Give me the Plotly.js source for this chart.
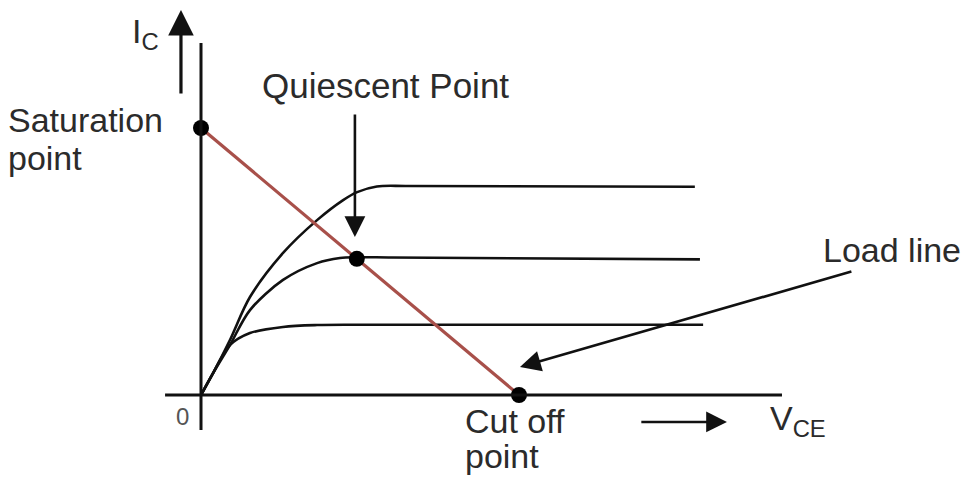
<!DOCTYPE html>
<html>
<head>
<meta charset="utf-8">
<script src="https://cdn.plot.ly/plotly-3.0.1.min.js"></script>
<style>html,body{margin:0;padding:0;background:#fff;}#chart{width:966px;height:484px;}</style>
</head>
<body>
<div id="chart"></div>
<script>
// Output characteristic curves (VCE, IC) in arbitrary units
var topVce = [0, 0.38, 0.91, 1.54, 2.58, 3.65, 4.47, 4.91, 5.53, 6.5, 15.53];
var topIc  = [0, 0.82, 2.06, 3.67, 5.32, 6.55, 7.30, 7.60, 7.81, 7.83, 7.80];
var midVce = [0, 0.38, 0.91, 1.54, 2.58, 3.65, 4.37, 4.91, 6.0, 15.69];
var midIc  = [0, 0.82, 1.87, 3.18, 4.31, 4.94, 5.13, 5.16, 5.15, 5.08];
var lowVce = [0, 0.38, 0.91, 1.54, 2.58, 3.65, 5.0, 15.79];
var lowIc  = [0, 0.82, 1.87, 2.32, 2.55, 2.62, 2.63, 2.63];
// Load line end points and operating points
var loadVce = [0, 10];
var loadIc  = [10, 0];
var pointVce = [0, 4.9, 10];
var pointIc  = [10, 5.1, 0];

var ink = '#111';
var txt = '#2b2b2b';
var F = 'Liberation Sans, Arial, sans-serif';

var traces = [
  {x: topVce, y: topIc, mode: 'lines', line: {color: ink, width: 2.6, shape: 'spline', smoothing: 0.9}},
  {x: midVce, y: midIc, mode: 'lines', line: {color: ink, width: 2.6, shape: 'spline', smoothing: 0.9}},
  {x: lowVce, y: lowIc, mode: 'lines', line: {color: ink, width: 2.6, shape: 'spline', smoothing: 0.9}},
  {x: loadVce, y: loadIc, mode: 'lines', line: {color: '#a8504a', width: 3.2}},
  {x: pointVce, y: pointIc, mode: 'markers', marker: {color: '#000', size: 16}}
];

function lbl(text, x, y, size, color) {
  return {text: text, x: x, y: y, xref: 'x', yref: 'y', showarrow: false,
    xanchor: 'left', yanchor: 'middle', font: {family: F, size: size, color: color || txt}};
}
function arr(x, y, ax, ay, w) {
  return {x: x, y: y, ax: ax, ay: ay, xref: 'x', yref: 'y', axref: 'x', ayref: 'y',
    text: '', showarrow: true, arrowhead: 2, arrowsize: 1.6, arrowwidth: w || 2.6, arrowcolor: ink};
}

var layout = {
  width: 966, height: 484,
  margin: {l: 0, r: 0, t: 0, b: 0},
  paper_bgcolor: '#fff', plot_bgcolor: '#fff',
  showlegend: false,
  xaxis: {range: [-6.321, 24.057], visible: false, fixedrange: true},
  yaxis: {range: [-3.333, 14.794], visible: false, fixedrange: true},
  shapes: [
    {type: 'line', xref: 'x', yref: 'y', x0: 0, x1: 0, y0: -1.31, y1: 13.18, line: {color: ink, width: 3}},
    {type: 'line', xref: 'x', yref: 'y', x0: -1.13, x1: 18.27, y0: 0, y1: 0, line: {color: ink, width: 3}}
  ],
  annotations: [
    lbl('Saturation', -6.12, 10.30, 34),
    lbl('point', -6.12, 8.88, 34),
    lbl('I<sub>C</sub>', -2.22, 13.55, 34),
    lbl('Quiescent Point', 1.86, 11.61, 35),
    lbl('Load line', 19.50, 5.43, 34),
    lbl('0', -0.86, -0.79, 24, '#555'),
    lbl('Cut off', 8.25, -0.97, 34),
    lbl('point', 8.25, -2.28, 34),
    lbl('V<sub>CE</sub>', 17.83, -0.97, 34),
    arr(-0.63, 14.42, -0.63, 11.24, 3.2),
    arr(4.84, 5.92, 4.84, 10.56, 2.6),
    arr(10.03, 1.05, 20.5, 4.64, 2.6),
    arr(16.54, -1.01, 13.8, -1.01, 2.6)
  ]
};

Plotly.newPlot('chart', traces, layout, {displayModeBar: false, staticPlot: true});
</script>
</body>
</html>
